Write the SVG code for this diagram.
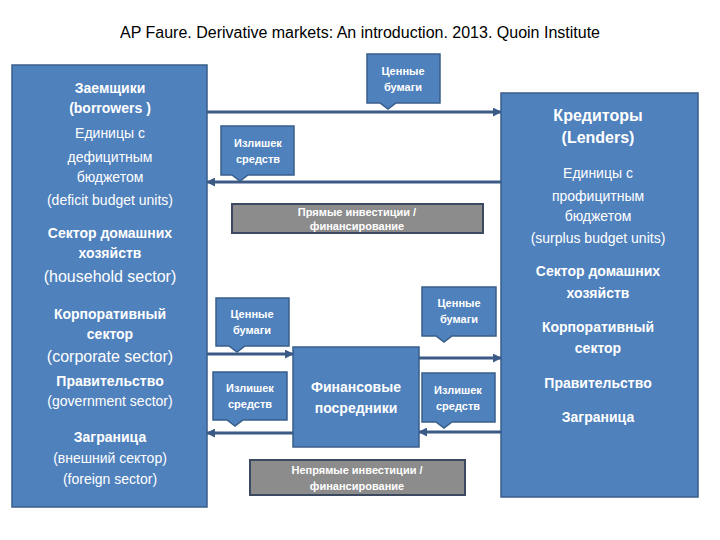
<svg xmlns="http://www.w3.org/2000/svg" width="720" height="540" viewBox="0 0 720 540">
<style>
text{font-family:"Liberation Sans",Arial,sans-serif;fill:#fff;text-anchor:middle}
.box{fill:#4F81BD;stroke:#385D8A;stroke-width:1.5}
.gray{fill:#8C8C8C;stroke:#3B4A60;stroke-width:2}
.ln{stroke:#3B5A85;stroke-width:3;fill:none}
.b{font-weight:bold}
.s{font-size:11px}
.m{font-size:14px}
.l{font-size:16px}
</style>
<defs>
<marker id="ah" viewBox="0 0 10 10" refX="9" refY="5" markerWidth="3" markerHeight="3" orient="auto"><path d="M0,0L10,5L0,10z" fill="#3B5A85"/></marker>
</defs>
<rect width="720" height="540" fill="#fff"/>
<text x="360" y="38" style="fill:#000;font-size:16px">AP Faure. Derivative markets: An introduction. 2013. Quoin Institute</text>
<g id="connectors">
<line class="ln" x1="207" y1="112" x2="501" y2="112" marker-end="url(#ah)"/>
<line class="ln" x1="501" y1="182" x2="207" y2="182" marker-end="url(#ah)"/>
<line class="ln" x1="207" y1="354" x2="293" y2="354" marker-end="url(#ah)"/>
<line class="ln" x1="293" y1="433" x2="207" y2="433" marker-end="url(#ah)"/>
<line class="ln" x1="419" y1="358" x2="501" y2="358" marker-end="url(#ah)"/>
<line class="ln" x1="501" y1="432" x2="419" y2="432" marker-end="url(#ah)"/>
</g>
<g id="borrowers">
<rect class="box" x="12" y="65" width="195" height="442"/>
<text x="110" y="93" class="b m">Заемщики</text>
<text x="110" y="113" class="b m">(borrowers )</text>
<text x="110" y="138" class="m">Единицы с</text>
<text x="110" y="162" class="m">дефицитным</text>
<text x="110" y="182" class="m">бюджетом</text>
<text x="110" y="205" class="m">(deficit budget units)</text>
<text x="110" y="238" class="b m">Сектор домашних</text>
<text x="110" y="258" class="b m">хозяйств</text>
<text x="110" y="282" class="l">(household sector)</text>
<text x="110" y="319" class="b m">Корпоративный</text>
<text x="110" y="339" class="b m">сектор</text>
<text x="110" y="362" class="l">(corporate sector)</text>
<text x="110" y="386" class="b m">Правительство</text>
<text x="110" y="406" class="m">(government sector)</text>
<text x="110" y="442" class="b m">Заграница</text>
<text x="110" y="463" class="m">(внешний сектор)</text>
<text x="110" y="484" class="m">(foreign sector)</text>
</g>
<g id="lenders">
<rect class="box" x="501" y="93" width="197" height="404"/>
<text x="598" y="121" class="b l">Кредиторы</text>
<text x="598" y="143" class="b l">(Lenders)</text>
<text x="598" y="178" class="m">Единицы с</text>
<text x="598" y="201" class="m">профицитным</text>
<text x="598" y="221" class="m">бюджетом</text>
<text x="598" y="243" class="m">(surplus budget units)</text>
<text x="598" y="276" class="b m">Сектор домашних</text>
<text x="598" y="298" class="b m">хозяйств</text>
<text x="598" y="332" class="b m">Корпоративный</text>
<text x="598" y="353" class="b m">сектор</text>
<text x="598" y="388" class="b m">Правительство</text>
<text x="598" y="422" class="b m">Заграница</text>
</g>
<g id="sec-top">
<path class="box" d="M367,54H440V103H396L388,109L380,103H367Z"/>
<text x="403" y="75" class="b s">Ценные</text><text x="403" y="91" class="b s">бумаги</text>
</g>
<g id="surplus-top">
<path class="box" d="M221,126H294V175H248L240,181L232,175H221Z"/>
<text x="258" y="147" class="b s">Излишек</text><text x="258" y="163" class="b s">средств</text>
</g>
<g id="direct">
<rect class="gray" x="232" y="204" width="251" height="29"/>
<text x="357" y="216" class="b s">Прямые инвестиции /</text>
<text x="357" y="230" class="b s">финансирование</text>
</g>
<g id="sec-left">
<path class="box" d="M216,298H289V346H245L237,352L229,346H216Z"/>
<text x="252" y="318" class="b s">Ценные</text><text x="252" y="334" class="b s">бумаги</text>
</g>
<g id="surplus-left">
<path class="box" d="M213,372H287V420H243L235,426L227,420H213Z"/>
<text x="250" y="392" class="b s">Излишек</text><text x="250" y="408" class="b s">средств</text>
</g>
<g id="sec-right">
<path class="box" d="M422,287H496V336H452L444,342L436,336H422Z"/>
<text x="459" y="307" class="b s">Ценные</text><text x="459" y="323" class="b s">бумаги</text>
</g>
<g id="surplus-right">
<path class="box" d="M422,373H495V422H452L444,428L436,422H422Z"/>
<text x="458" y="394" class="b s">Излишек</text><text x="458" y="410" class="b s">средств</text>
</g>
<g id="intermediaries">
<rect class="box" x="293" y="347" width="126" height="100"/>
<text x="356" y="392" class="b m">Финансовые</text>
<text x="356" y="413" class="b m">посредники</text>
</g>
<g id="indirect">
<rect class="gray" x="250" y="460" width="215" height="35"/>
<text x="357" y="474" class="b s">Непрямые инвестиции /</text>
<text x="357" y="490" class="b s">финансирование</text>
</g>
</svg>
